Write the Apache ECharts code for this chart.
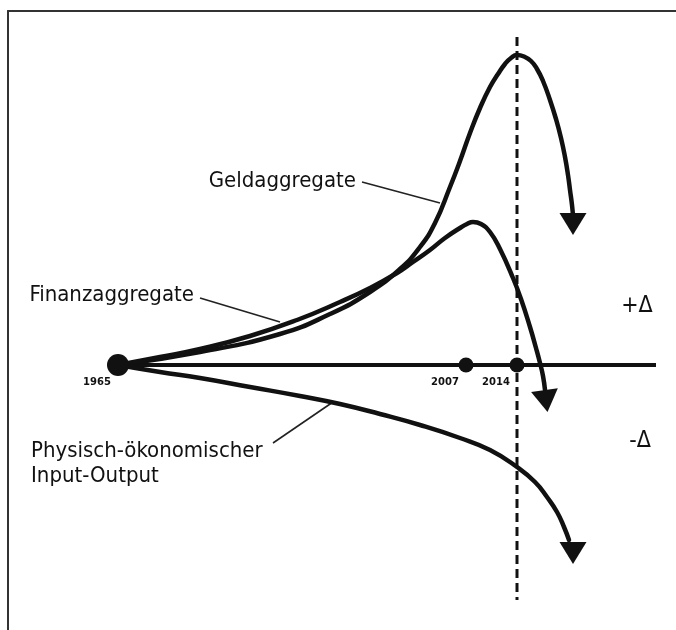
<!DOCTYPE html>
<html>
<head>
<meta charset="utf-8">
<title>Geld-, Finanz- und physische Aggregate</title>
<script src="https://cdn.jsdelivr.net/npm/echarts@6/dist/echarts.min.js"></script>
<style>
  html, body { margin: 0; padding: 0; background: #fff; }
  #chart { width: 676px; height: 630px; }
</style>
</head>
<body>
<div id="chart"></div>
<script>
// x: Abstand ab 1965, y: Delta gegenüber der Nulllinie (oben +, unten -)
const years = ['1965', '2007', '2014']
const yearX = [0, 348, 399]

const geld = [
  [0, 0], [82, 13], [162, 31], [212, 51], [252, 73], [282, 96], [302, 118],
  [317, 142], [332, 178], [342, 204], [352, 232], [362, 257], [372, 278],
  [380, 291], [387, 301], [393, 307], [399, 310], [406, 308.5], [413, 304],
  [419, 296], [425, 284], [432, 265], [438, 246], [443, 227], [447, 208],
  [450, 190], [452, 175], [454, 160], [455, 149],
]
const finanz = [
  [0, 0], [42, 8], [82, 16], [132, 29], [179, 45], [222, 63], [252, 77],
  [279, 92], [295, 103], [312, 115], [327, 127], [342, 137], [349, 141],
  [355, 143], [363, 141], [372, 133], [382, 116], [395, 87], [403, 66],
  [412, 38], [418, 17], [422, 2], [425, -11], [427, -25],
]
const physisch = [
  [0, 0], [42, -7], [82, -13], [132, -22], [182, -31], [222, -39], [262, -49],
  [302, -60], [342, -73], [372, -85], [399, -102], [417, -117], [429, -132],
  [439, -147], [446, -162], [451, -175],
]
// Pfeilspitzen am Ende der Kurven
const arrowHeads = [[455, 141], [428, -36], [455, -188]]

const baseline = [[0, 0], [538, 0]]
const line2014 = [[399, 328], [399, -235]]

// Hinweislinien: erster Punkt am Text, zweiter an der Kurve
const leaders = [
  { name: 'Geldaggregate', data: [[244, 183], [322, 162]] },
  { name: 'Finanzaggregate', data: [[82, 67], [162, 43]] },
  { name: 'Physisch-ökonomischer\nInput-Output', data: [[155, -78], [215, -37]] },
]
const deltaLabels = [['+Δ', 519, 59], ['-Δ', 522, -76]]

const font = "'DejaVu Sans Condensed', 'DejaVu Sans', sans-serif"
const ink = '#111'

const chart = echarts.init(document.getElementById('chart'))

function curve(data) {
  return {
    type: 'line',
    data,
    smooth: true,
    symbol: 'none',
    lineStyle: { color: ink, width: 4.5, cap: 'round', join: 'round' },
    z: 4,
    silent: true,
  }
}

const leaderSeries = leaders.map((l) => ({
  type: 'line',
  data: l.data,
  symbol: 'none',
  lineStyle: { color: '#222', width: 1.6 },
  z: 3,
  silent: true,
}))

const leaderText = {
  type: 'scatter',
  symbolSize: 0,
  itemStyle: { opacity: 1 },
  data: leaders.map((l, i) => ({
    value: l.data[0],
    label: {
      formatter: i === 2 ? '{a|Physisch-ökonomischer}\n{a|Input-Output}' : l.name,
      offset: i === 2 ? [0, 21] : i === 1 ? [0, -3] : [0, -1],
    },
  })),
  label: {
    show: true,
    position: 'left',
    distance: 6,
    color: '#111',
    fontFamily: font,
    fontSize: 22,
    lineHeight: 25,
    rich: { a: { width: 236, align: 'left', fontFamily: font, fontSize: 22, lineHeight: 25, color: '#111' } },
  },
  z: 5,
  silent: true,
}

chart.setOption({
  animation: false,
  backgroundColor: '#fff',
  grid: { left: 8, top: 11, right: 0, bottom: 0 },
  xAxis: {
    type: 'value',
    min: -110,
    max: 558,
    position: 'top',
    axisLine: { show: true, onZero: false, lineStyle: { color: '#333', width: 2 } },
    axisTick: { show: false },
    axisLabel: { show: false },
    splitLine: { show: false },
  },
  yAxis: {
    type: 'value',
    min: -265,
    max: 354,
    axisLine: { show: true, onZero: false, lineStyle: { color: '#333', width: 2 } },
    axisTick: { show: false },
    axisLabel: { show: false },
    splitLine: { show: false },
  },
  series: [
    {
      type: 'line',
      data: baseline,
      symbol: 'none',
      lineStyle: { color: ink, width: 4 },
      z: 2,
      silent: true,
    },
    {
      type: 'line',
      data: line2014,
      symbol: 'none',
      lineStyle: { color: ink, width: 3, type: [9, 5] },
      z: 2,
      silent: true,
    },
    curve(geld),
    curve(finanz),
    curve(physisch),
    ...leaderSeries,
    {
      type: 'scatter',
      data: arrowHeads,
      symbol: 'triangle',
      symbolSize: [27, 22],
      symbolRotate: (v, p) => (p.dataIndex === 1 ? 188 : 180),
      itemStyle: { color: ink, opacity: 1 },
      z: 6,
      silent: true,
    },
    {
      type: 'scatter',
      data: years.map((y, i) => ({ name: y, value: [yearX[i], 0] })),
      symbolSize: (v, p) => (p.dataIndex === 0 ? 22 : 15),
      itemStyle: { color: ink, opacity: 1 },
      label: {
        show: true,
        position: 'inside',
        offset: [-21, 17],
        formatter: '{b}',
        color: ink,
        fontFamily: "'DejaVu Sans', sans-serif",
        fontWeight: 'bold',
        fontSize: 10,
      },
      z: 7,
      silent: true,
    },
    leaderText,
    {
      type: 'scatter',
      symbolSize: 0,
      itemStyle: { opacity: 1 },
      data: deltaLabels.map((d) => ({ name: d[0], value: [d[1], d[2]] })),
      label: {
        show: true,
        position: 'inside',
        formatter: '{b}',
        color: '#111',
        fontFamily: font,
        fontSize: 23,
      },
      z: 5,
      silent: true,
    },
  ],
})

window.addEventListener('resize', () => chart.resize())
</script>
</body>
</html>
